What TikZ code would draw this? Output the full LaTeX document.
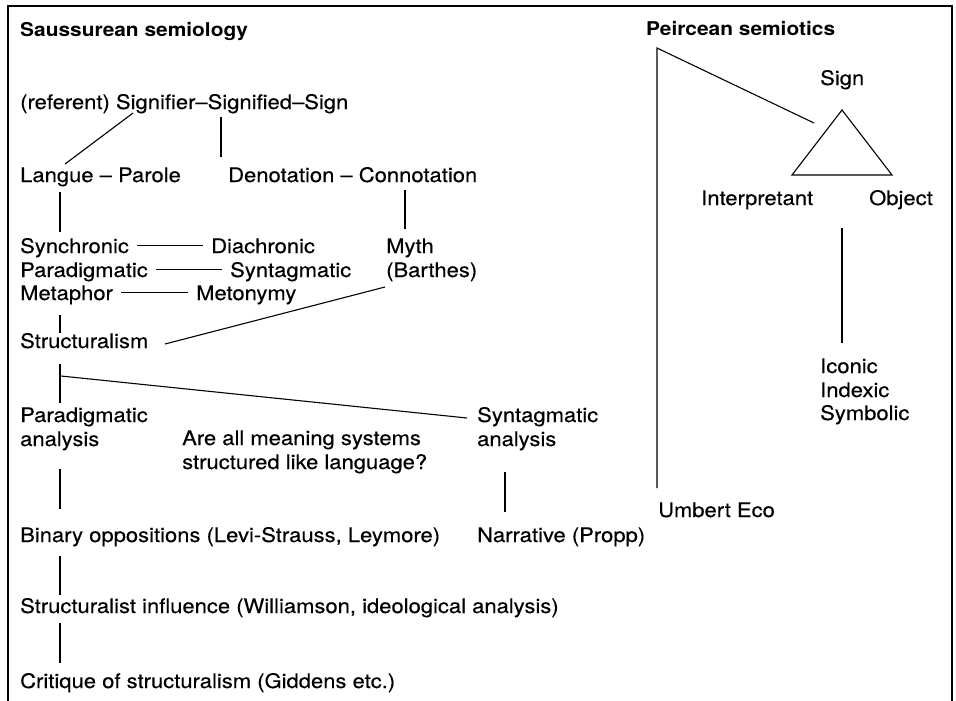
\documentclass[tikz,border=0pt]{standalone}
\usepackage{fontspec}
\setmainfont{TeX Gyre Heros}[FakeStretch=1.10]
\newfontfamily\bodyfont{TeX Gyre Heros}[Ligatures=TeX,FakeStretch=1.10,FakeBold=0.3]
\usetikzlibrary{calc}
\begin{document}
\begin{tikzpicture}[x=1pt,y=-1pt,
  lbl/.style={anchor=base west,inner sep=0pt,font=\bodyfont\fontsize{20}{24}\selectfont},
  head/.style={anchor=base west,inner sep=0pt,font=\fontsize{19}{23}\selectfont\bfseries},
  link/.style={line width=1.1pt},
  rule/.style={line width=1.1pt},
  frame/.style={line width=1.5pt}]
\useasboundingbox (0,0) rectangle (956,701);
% open frame
\draw[frame] (8,701) -- (8,6) -- (952,6) -- (952,701);

% headings
\node[head] (sauss) at (20,36.5) {Saussurean semiology};
\node[head] (peirce) at (646,36) {Peircean semiotics};

% Saussurean column
\node[lbl] (ref) at (20,109) {(referent) Signifier–Signified–Sign};
\node[lbl] (langue) at (20,182) {Langue – Parole};
\node[lbl] (denot) at (228,182) {Denotation – Connotation};
\node[lbl] (syn) at (20,253) {Synchronic};
\node[lbl] (dia) at (211,253) {Diachronic};
\node[lbl] (para) at (20,277) {Paradigmatic};
\node[lbl] (synt) at (230,277) {Syntagmatic};
\node[lbl] (meta) at (20,300) {Metaphor};
\node[lbl] (meto) at (196,300) {Metonymy};
\node[lbl] (myth) at (386,253) {Myth};
\node[lbl] (barthes) at (386,277) {(Barthes)};
\node[lbl] (struct) at (20,348) {Structuralism};
\node[lbl] (pa1) at (20,422) {Paradigmatic};
\node[lbl] (pa2) at (20,446) {analysis};
\node[lbl] (sa1) at (477,422) {Syntagmatic};
\node[lbl] (sa2) at (477,446) {analysis};
\node[lbl] (q1) at (182,445) {Are all meaning systems};
\node[lbl] (q2) at (182,469) {structured like language?};
\node[lbl] (binary) at (20,542) {Binary oppositions (Levi-Strauss, Leymore)};
\node[lbl] (narr) at (477,542) {Narrative (Propp)};
\node[lbl] (infl) at (20,613) {Structuralist influence (Williamson, ideological analysis)};
\node[lbl] (crit) at (20,688) {Critique of structuralism (Giddens etc.)};

% Peircean column
\node[lbl] (sign) at (820,85) {Sign};
\node[lbl] (interp) at (701,205) {Interpretant};
\node[lbl] (object) at (869,205) {Object};
\node[lbl] (iconic) at (820,373) {Iconic};
\node[lbl] (indexic) at (820,397) {Indexic};
\node[lbl] (symbolic) at (820,420) {Symbolic};
\node[lbl] (eco) at (658,517) {Umbert Eco};

% connector end points
\coordinate (signifierFoot) at (133,113);
\coordinate (langueTop) at (65,164);
\coordinate (signifiedFoot) at (221,117);
\coordinate (denotTop) at (221,157);
\coordinate (langueFoot) at (60,192);
\coordinate (synTop) at (60,232);
\coordinate (connotFoot) at (405,190);
\coordinate (mythTop) at (405,229);
\coordinate (metaFoot) at (60,315);
\coordinate (structTop) at (60,333);
\coordinate (structEnd) at (165,344);
\coordinate (barthesFoot) at (385,287);
\coordinate (structFoot) at (60,364);
\coordinate (paTop) at (60,403);
\coordinate (branch) at (61,376);
\coordinate (saLeft) at (467,418);
\coordinate (paFoot) at (60,469);
\coordinate (binaryTop) at (60,509);
\coordinate (saFoot) at (505,472);
\coordinate (narrTop) at (505,512);
\coordinate (binaryFoot) at (60,556);
\coordinate (inflTop) at (60,595);
\coordinate (inflFoot) at (60,623);
\coordinate (critTop) at (60,663);
\coordinate (peirceCorner) at (657,48);
\coordinate (ecoTop) at (657,488);
\coordinate (triLeftEnd) at (814,123);
\coordinate (apex) at (842,110);
\coordinate (baseL) at (792,175);
\coordinate (baseR) at (892,175);
\coordinate (objectFoot) at (842,228);
\coordinate (iconicTop) at (842,343);

% connectors
\draw[link] (signifierFoot) -- (langueTop);
\draw[link] (signifiedFoot) -- (denotTop);
\draw[link] (langueFoot) -- (synTop);
\draw[link] (connotFoot) -- (mythTop);
\draw[rule] ([xshift=8pt,yshift=7.5pt]syn.base east) -- ([xshift=-8pt,yshift=7.5pt]dia.base west);
\draw[rule] ([xshift=8pt,yshift=7.5pt]para.base east) -- ([xshift=-8pt,yshift=7.5pt]synt.base west);
\draw[rule] ([xshift=8pt,yshift=7.5pt]meta.base east) -- ([xshift=-8pt,yshift=7.5pt]meto.base west);
\draw[link] (metaFoot) -- (structTop);
\draw[link] (structEnd) -- (barthesFoot);
\draw[link] (structFoot) -- (paTop);
\draw[link] (branch) -- (saLeft);
\draw[link] (paFoot) -- (binaryTop);
\draw[link] (saFoot) -- (narrTop);
\draw[link] (binaryFoot) -- (inflTop);
\draw[link] (inflFoot) -- (critTop);
\draw[link] (ecoTop) -- (peirceCorner) -- (triLeftEnd);
\draw[link,line join=miter] (apex) -- (baseL) -- (baseR) -- cycle;
\draw[link] (objectFoot) -- (iconicTop);
\end{tikzpicture}
\end{document}
